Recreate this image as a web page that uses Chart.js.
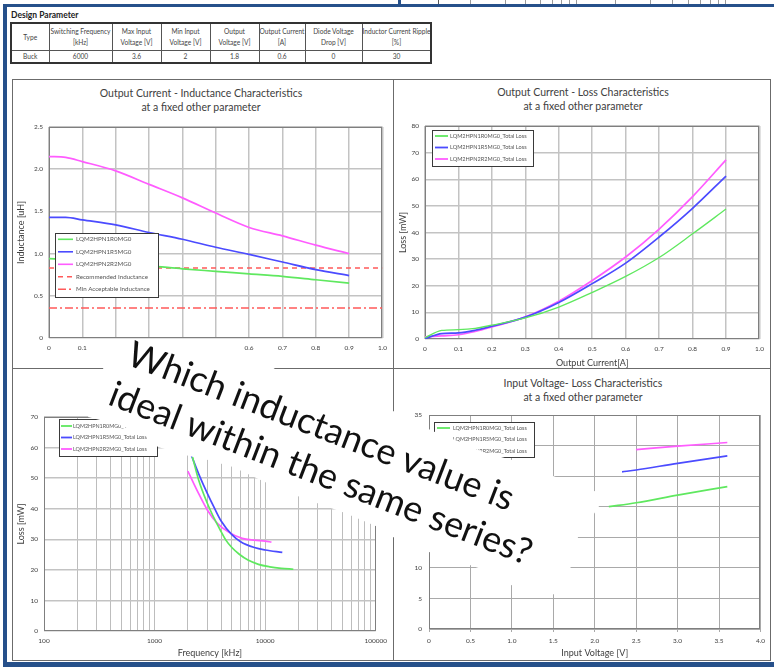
<!DOCTYPE html>
<html>
<head>
<meta charset="utf-8">
<title>Inductor selection – Buck converter</title>
<script src="https://cdn.jsdelivr.net/npm/chart.js@4.4.1/dist/chart.umd.min.js"></script>
<style>
  html, body { margin:0; padding:0; background:#fff; }
  body { position:relative; width:774px; height:667px; overflow:hidden; font-family:Lato, "Open Sans", sans-serif; color:#333; }
  .band { position:absolute; background:#26508a; }
  #frame { position:absolute; left:12px; top:79px; width:757px; height:580px; border:1px solid #6b6b6b; }
  .divider { position:absolute; background:#6b6b6b; }
  canvas { position:absolute; }
  .ptitle { position:absolute; width:320px; text-align:center; font-size:10.5px; line-height:14px; color:#404040; white-space:nowrap; }
  #dp-title { position:absolute; left:11px; top:10px; font-size:8.5px; font-weight:bold; color:#222; }
  #dp { position:absolute; left:10px; top:22px; border-collapse:collapse; border:2px solid #333; font-size:6.6px; color:#444; table-layout:fixed; }
  #dp th, #dp td { border:1px solid #555; padding:0; text-align:center; font-weight:normal; line-height:11px; white-space:nowrap; overflow:hidden; }
  #dp th { height:26px; }
  #dp td { height:10px; }
  svg { position:absolute; left:0; top:0; }
</style>
</head>
<body>

<div class="band" style="left:3px;top:4px;width:771px;height:3px"></div>
<div class="band" style="left:3px;top:4px;width:4px;height:663px"></div>
<div class="band" style="left:3px;top:662px;width:771px;height:5px"></div>

<svg width="774" height="5" style="top:0">
  <rect x="398" y="0" width="3" height="4" fill="#26508a"/>
  <g stroke="#9a9a9a" stroke-width="1">
    <line x1="438.5" y1="0" x2="438.5" y2="4" stroke="#555"/>
    <line x1="470.5" y1="0" x2="470.5" y2="4"/><line x1="505.5" y1="0" x2="505.5" y2="4"/>
    <line x1="525.5" y1="0" x2="525.5" y2="4"/><line x1="540.5" y1="0" x2="540.5" y2="4"/>
    <line x1="552.5" y1="0" x2="552.5" y2="4"/><line x1="561.5" y1="0" x2="561.5" y2="4"/>
    <line x1="569.5" y1="0" x2="569.5" y2="4"/><line x1="576.5" y1="0" x2="576.5" y2="4"/>
    <line x1="615.5" y1="0" x2="615.5" y2="4"/><line x1="650.5" y1="0" x2="650.5" y2="4"/>
    <line x1="672.5" y1="0" x2="672.5" y2="4"/><line x1="688.5" y1="0" x2="688.5" y2="4"/>
    <line x1="700.5" y1="0" x2="700.5" y2="4"/><line x1="710.5" y1="0" x2="710.5" y2="4"/>
    <line x1="718.5" y1="0" x2="718.5" y2="4"/><line x1="725.5" y1="0" x2="725.5" y2="4"/>
  </g>
</svg>

<div id="dp-title">Design Parameter</div>
<table id="dp"></table>

<div id="frame"></div>
<div class="divider" style="left:393px;top:79px;width:1px;height:581px"></div>
<div class="divider" style="left:12px;top:368px;width:758px;height:1px"></div>

<div class="ptitle" style="left:41px;top:86px">Output Current - Inductance Characteristics<br>at a fixed other parameter</div>
<div class="ptitle" style="left:423px;top:85px">Output Current - Loss Characteristics<br>at a fixed other parameter</div>
<div class="ptitle" style="left:43px;top:376px">Frequency - Loss Characteristics<br>at a fixed other parameter</div>
<div class="ptitle" style="left:423px;top:376px">Input Voltage- Loss Characteristics<br>at a fixed other parameter</div>

<canvas id="c1" width="380" height="288" style="left:13px;top:80px"></canvas>
<canvas id="c2" width="376" height="288" style="left:394px;top:80px"></canvas>
<canvas id="c3" width="380" height="291" style="left:13px;top:369px"></canvas>
<canvas id="c4" width="376" height="291" style="left:394px;top:369px"></canvas>

<svg width="774" height="667">
  <defs><filter id="soft"><feGaussianBlur stdDeviation="0.6"/></filter></defs>
  <polygon filter="url(#soft)" fill="#ffffff" points="104,352 112,343 135,339 175,339 212,344 240,351 262,360 275,369 330,372 393,411 420,425 437,433 455,440 483,452 512,460 553,476 597,492 603,500 590,520 578,537 572,565 555,594 540,597 520,590 487,571 450,558 415,548 393,537 378,527 345,513 300,497 267,483 233,467 208,460 189,456 158,447 147,437 120,425 88,417 96,395 103,372"/>
  <g transform="translate(125 364) rotate(21)" font-family="Lato, 'Open Sans', sans-serif" font-size="36" fill="#111">
    <text x="0" y="0">Which inductance value is</text>
    <text x="-3" y="44">ideal within the same series?</text>
  </g>
</svg>

<script>
// ---- Design parameter table ----
const PARAM_HEADERS = ['Type', 'Switching Frequency<br>[kHz]', 'Max Input<br>Voltage [V]', 'Min Input<br>Voltage [V]',
                       'Output<br>Voltage [V]', 'Output Current<br>[A]', 'Diode Voltage<br>Drop [V]', 'Inductor Current Ripple<br>[%]'];
const PARAM_VALUES = ['Buck', '6000', '3.6', '2', '1.8', '0.6', '0', '30'];
const PARAM_COL_WIDTHS = [38, 63, 49, 49, 49, 46, 57, 69];

// ---- Inductor parts compared ----
const PART_NAMES = ['LQM2HPN1R0MG0', 'LQM2HPN1R5MG0', 'LQM2HPN2R2MG0'];

// ---- Output current vs inductance [uH] ----
const IOUT_L = [0, 0.05, 0.1, 0.2, 0.3, 0.4, 0.5, 0.6, 0.7, 0.8, 0.9];
const L_1R0 = [0.94, 0.93, 0.91, 0.88, 0.855, 0.82, 0.79, 0.76, 0.73, 0.69, 0.65];
const L_1R5 = [1.43, 1.43, 1.40, 1.34, 1.25, 1.17, 1.075, 0.99, 0.90, 0.81, 0.74];
const L_2R2 = [2.15, 2.14, 2.09, 1.98, 1.82, 1.66, 1.48, 1.31, 1.21, 1.10, 1.00];
const L_RECOMMENDED = 0.83;
const L_MIN_ACCEPTABLE = 0.355;
const IOUT_SPAN = [0, 1];

// ---- Output current vs total loss [mW] ----
const IOUT_LOSS = [0, 0.05, 0.1, 0.15, 0.2, 0.3, 0.4, 0.5, 0.6, 0.7, 0.8, 0.9];
const LOSS_I_1R0 = [0.5, 3.2, 3.5, 4.0, 5.2, 7.9, 12.0, 17.5, 23.5, 30.6, 39.5, 48.8];
const LOSS_I_1R5 = [0.2, 2.0, 2.3, 3.3, 4.8, 8.2, 13.7, 20.8, 28.5, 38.3, 49.1, 61.2];
const LOSS_I_2R2 = [0.8, 1.2, 1.6, 2.8, 4.5, 8.3, 14.2, 22.0, 30.8, 41.3, 53.5, 67.3];

// ---- Switching frequency [kHz] vs total loss [mW] ----
const FREQ_1R0 = [2200, 2500, 3000, 3500, 4000, 4400, 5000, 5800, 7000, 8700, 11000, 14000, 18000];
const LOSS_F_1R0 = [57, 49.5, 41.8, 36.5, 32.5, 29.8, 27.3, 25.2, 23.2, 21.8, 21.0, 20.5, 20.2];
const FREQ_1R5 = [2150, 2500, 3000, 3500, 4000, 5000, 6000, 8000, 10000, 14300];
const LOSS_F_1R5 = [57.5, 51.5, 45.0, 40.0, 36.0, 31.5, 29.2, 27.3, 26.5, 25.7];
const FREQ_2R2 = [2000, 2500, 3000, 3700, 4600, 6200, 8000, 10000, 11400];
const LOSS_F_2R2 = [52.3, 45.0, 39.6, 35.2, 32.5, 30.3, 29.7, 29.4, 29.1];
const FREQ_DECADES = [100, 1000, 10000, 100000];
const FREQ_TICK_LABELS = ['100', '1000', '10000', '100000'];

// ---- Input voltage [V] vs total loss [mW] ----
const VIN_1R0 = [2.17, 2.5, 3.0, 3.6];
const LOSS_V_1R0 = [20.0, 20.65, 21.9, 23.3];
const VIN_1R5 = [2.33, 2.5, 3.0, 3.6];
const LOSS_V_1R5 = [25.7, 26.0, 27.1, 28.3];
const VIN_2R2 = [2.5, 3.0, 3.6];
const LOSS_V_2R2 = [29.35, 29.9, 30.5];

// ---- build the table ----
(function () {
  const t = document.getElementById('dp');
  const cg = document.createElement('colgroup');
  PARAM_COL_WIDTHS.forEach(w => { const c = document.createElement('col'); c.style.width = w + 'px'; cg.appendChild(c); });
  t.appendChild(cg);
  const hr = t.insertRow();
  PARAM_HEADERS.forEach(h => { const th = document.createElement('th'); th.innerHTML = h; hr.appendChild(th); });
  const vr = t.insertRow();
  PARAM_VALUES.forEach(v => { const td = vr.insertCell(); td.textContent = v; });
})();

// ---- charts ----
const GREEN = '#5fe85f', BLUE = '#4b4bff', MAGENTA = '#ff5cff', RED = '#ff5a5a';
const TXT = '#404040';
Chart.defaults.font.family = 'Lato, "Open Sans", sans-serif';
Chart.defaults.color = TXT;

const pts = (xs, ys) => xs.map((x, i) => ({ x, y: ys[i] }));

// grey border round each plot area
const plotFrame = {
  id: 'plotFrame',
  beforeDatasetsDraw(chart, args, o) {
    const { ctx, chartArea: a } = chart;
    ctx.save();
    ctx.strokeStyle = o.color || '#7f7f7f';
    ctx.lineWidth = 1;
    ctx.strokeRect(Math.round(a.left) + 0.5, Math.round(a.top) + 0.5, Math.round(a.width) - 1, Math.round(a.height) - 1);
    ctx.restore();
  }
};

// boxed legend placed inside the plot area
const boxLegend = {
  id: 'boxLegend',
  afterDatasetsDraw(chart, args, o) {
    if (!o || !o.box) return;
    const { ctx, chartArea: a } = chart;
    const x = Math.round(a.left + o.box[0]), y = Math.round(a.top + o.box[1]);
    const w = o.box[2], h = o.box[3];
    ctx.save();
    ctx.fillStyle = '#fff';
    ctx.fillRect(x, y, w, h);
    ctx.strokeStyle = '#3a3a3a';
    ctx.lineWidth = 1;
    ctx.strokeRect(x + 0.5, y + 0.5, w, h);
    ctx.font = o.fontSize + 'px Lato, "Open Sans", sans-serif';
    ctx.textBaseline = 'middle';
    ctx.textAlign = 'left';
    chart.data.datasets.forEach((ds, i) => {
      const ry = y + o.firstRow + i * o.rowStep;
      ctx.beginPath();
      ctx.setLineDash(ds.borderDash || []);
      ctx.strokeStyle = ds.borderColor;
      ctx.lineWidth = o.sampleWidth || 2;
      ctx.moveTo(x + o.sample[0], ry);
      ctx.lineTo(x + o.sample[1], ry);
      ctx.stroke();
      ctx.setLineDash([]);
      ctx.fillStyle = '#555';
      ctx.fillText(ds.label, x + o.textX, ry);
    });
    ctx.restore();
  }
};

const tickFont = { size: 6.5 };
const titleFont = { size: 9 };

function series(label, data, color, extra) {
  return Object.assign({ label, data, borderColor: color, backgroundColor: color, borderWidth: 1.7,
    pointRadius: 0, cubicInterpolationMode: 'monotone', fill: false }, extra || {});
}

function baseOptions(pad, legend, xScale, yScale) {
  return {
    responsive: false, animation: false, devicePixelRatio: 1,
    layout: { padding: { left: 0, top: pad.top, right: pad.right, bottom: 0 } },
    plugins: { legend: { display: false }, tooltip: { enabled: false }, title: { display: false },
               boxLegend: legend, plotFrame: {} },
    scales: { x: xScale, y: yScale }
  };
}

function linAxis(min, max, step, fitSize, isX, extra) {
  const ax = {
    type: 'linear', min, max,
    ticks: { stepSize: step, font: tickFont, color: TXT, padding: 6, maxRotation: 0, autoSkip: false },
    grid: { color: '#c3c3c3', lineWidth: 1.5, drawTicks: false },
    border: { display: false },
    afterFit(s) { if (isX) s.height = fitSize; else s.width = fitSize; }
  };
  return Object.assign(ax, extra || {});
}

// 1. Output current – inductance
new Chart(document.getElementById('c1'), {
  type: 'line',
  data: { datasets: [
    series(PART_NAMES[0], pts(IOUT_L, L_1R0), GREEN),
    series(PART_NAMES[1], pts(IOUT_L, L_1R5), BLUE),
    series(PART_NAMES[2], pts(IOUT_L, L_2R2), MAGENTA),
    series('Recommended Inductance', IOUT_SPAN.map(x => ({ x, y: L_RECOMMENDED })), RED, { borderDash: [5, 4], borderWidth: 1.4 }),
    series('Min Acceptable Inductance', IOUT_SPAN.map(x => ({ x, y: L_MIN_ACCEPTABLE })), RED, { borderDash: [8, 3, 2, 3], borderWidth: 1.4 })
  ] },
  options: baseOptions({ top: 47, right: 6 },
    { box: [6, 106, 103, 64], firstRow: 6.3, rowStep: 12.5, sample: [3, 18], textX: 21, fontSize: 6.2, sampleWidth: 1.6 },
    linAxis(0, 1, 0.1, 30, true),
    linAxis(0, 2.5, 0.5, 36, false, { title: { display: true, text: 'Inductance [uH]', font: titleFont, color: TXT, padding: { top: 2.5, bottom: 0 } } })),
  plugins: [plotFrame, boxLegend]
});

// 2. Output current – loss
new Chart(document.getElementById('c2'), {
  type: 'line',
  data: { datasets: [
    series(PART_NAMES[0] + '_Total Loss', pts(IOUT_LOSS, LOSS_I_1R0), GREEN, { borderWidth: 1.3 }),
    series(PART_NAMES[1] + '_Total Loss', pts(IOUT_LOSS, LOSS_I_1R5), BLUE),
    series(PART_NAMES[2] + '_Total Loss', pts(IOUT_LOSS, LOSS_I_2R2), MAGENTA)
  ] },
  options: baseOptions({ top: 46, right: 8 },
    { box: [7, 4, 101, 36], firstRow: 6, rowStep: 11.5, sample: [3, 16], textX: 18, fontSize: 5.6, sampleWidth: 1.8 },
    linAxis(0, 1, 0.1, 29, true, { title: { display: true, text: 'Output Current[A]', font: titleFont, color: TXT, padding: { top: 0, bottom: 0 } } }),
    linAxis(0, 80, 10, 31, false, { title: { display: true, text: 'Loss [mW]', font: titleFont, color: TXT, padding: { top: 3.5, bottom: 0 } } })),
  plugins: [plotFrame, boxLegend]
});

// 3. Frequency – loss (log axis, a grid line at every 1..9 step of each decade)
const FREQ_GRID = [];
for (let d = 0; d < FREQ_DECADES.length - 1; d++) {
  for (let m = 1; m < 10; m++) FREQ_GRID.push(FREQ_DECADES[d] * m);
}
FREQ_GRID.push(FREQ_DECADES[FREQ_DECADES.length - 1]);

new Chart(document.getElementById('c3'), {
  type: 'line',
  data: { datasets: [
    series(PART_NAMES[0] + '_Total Loss', pts(FREQ_1R0, LOSS_F_1R0), GREEN),
    series(PART_NAMES[1] + '_Total Loss', pts(FREQ_1R5, LOSS_F_1R5), BLUE),
    series(PART_NAMES[2] + '_Total Loss', pts(FREQ_2R2, LOSS_F_2R2), MAGENTA)
  ] },
  options: baseOptions({ top: 48, right: 15 },
    { box: [15, 2, 98, 37], firstRow: 7, rowStep: 11.5, sample: [2, 13], textX: 14, fontSize: 5.4, sampleWidth: 1.8 },
    {
      type: 'logarithmic', min: FREQ_DECADES[0], max: FREQ_DECADES[FREQ_DECADES.length - 1],
      afterBuildTicks(s) { s.ticks = FREQ_GRID.map(v => ({ value: v })); },
      ticks: { font: tickFont, color: TXT, padding: 6, maxRotation: 0, autoSkip: false,
               callback(v) { const i = FREQ_DECADES.indexOf(v); return i >= 0 ? FREQ_TICK_LABELS[i] : ''; } },
      grid: { color: '#bdbdbd', lineWidth: 1, drawTicks: false },
      border: { display: false },
      title: { display: true, text: 'Frequency [kHz]', font: titleFont, color: TXT, padding: { top: 0, bottom: 1.5 } },
      afterFit(s) { s.height = 29; }
    },
    linAxis(0, 70, 10, 31, false, { title: { display: true, text: 'Loss [mW]', font: titleFont, color: TXT, padding: { top: 2.5, bottom: 0 } } })),
  plugins: [plotFrame, boxLegend]
});

// 4. Input voltage – loss
const c4x = linAxis(0, 4, 0.5, 31, true, { title: { display: true, text: 'Input Voltage [V]', font: titleFont, color: TXT, padding: { top: 0, bottom: 1.5 } } });
c4x.grid = { color: '#a9a9a9', lineWidth: 1, drawTicks: true, tickLength: 3 };
c4x.ticks.padding = 5;
const c4y = linAxis(0, 35, 5, 35, false);
c4y.grid = { color: '#a9a9a9', lineWidth: 1, drawTicks: false };
c4y.ticks.padding = 7;

new Chart(document.getElementById('c4'), {
  type: 'line',
  data: { datasets: [
    series(PART_NAMES[0] + '_Total Loss', pts(VIN_1R0, LOSS_V_1R0), GREEN),
    series(PART_NAMES[1] + '_Total Loss', pts(VIN_1R5, LOSS_V_1R5), BLUE),
    series(PART_NAMES[2] + '_Total Loss', pts(VIN_2R2, LOSS_V_2R2), MAGENTA)
  ] },
  options: baseOptions({ top: 46, right: 8 },
    { box: [5, 7, 100, 35], firstRow: 6, rowStep: 11.5, sample: [3, 16], textX: 19, fontSize: 5.4, sampleWidth: 1.8 },
    c4x, c4y),
  plugins: [plotFrame, boxLegend]
});
</script>
</body>
</html>
